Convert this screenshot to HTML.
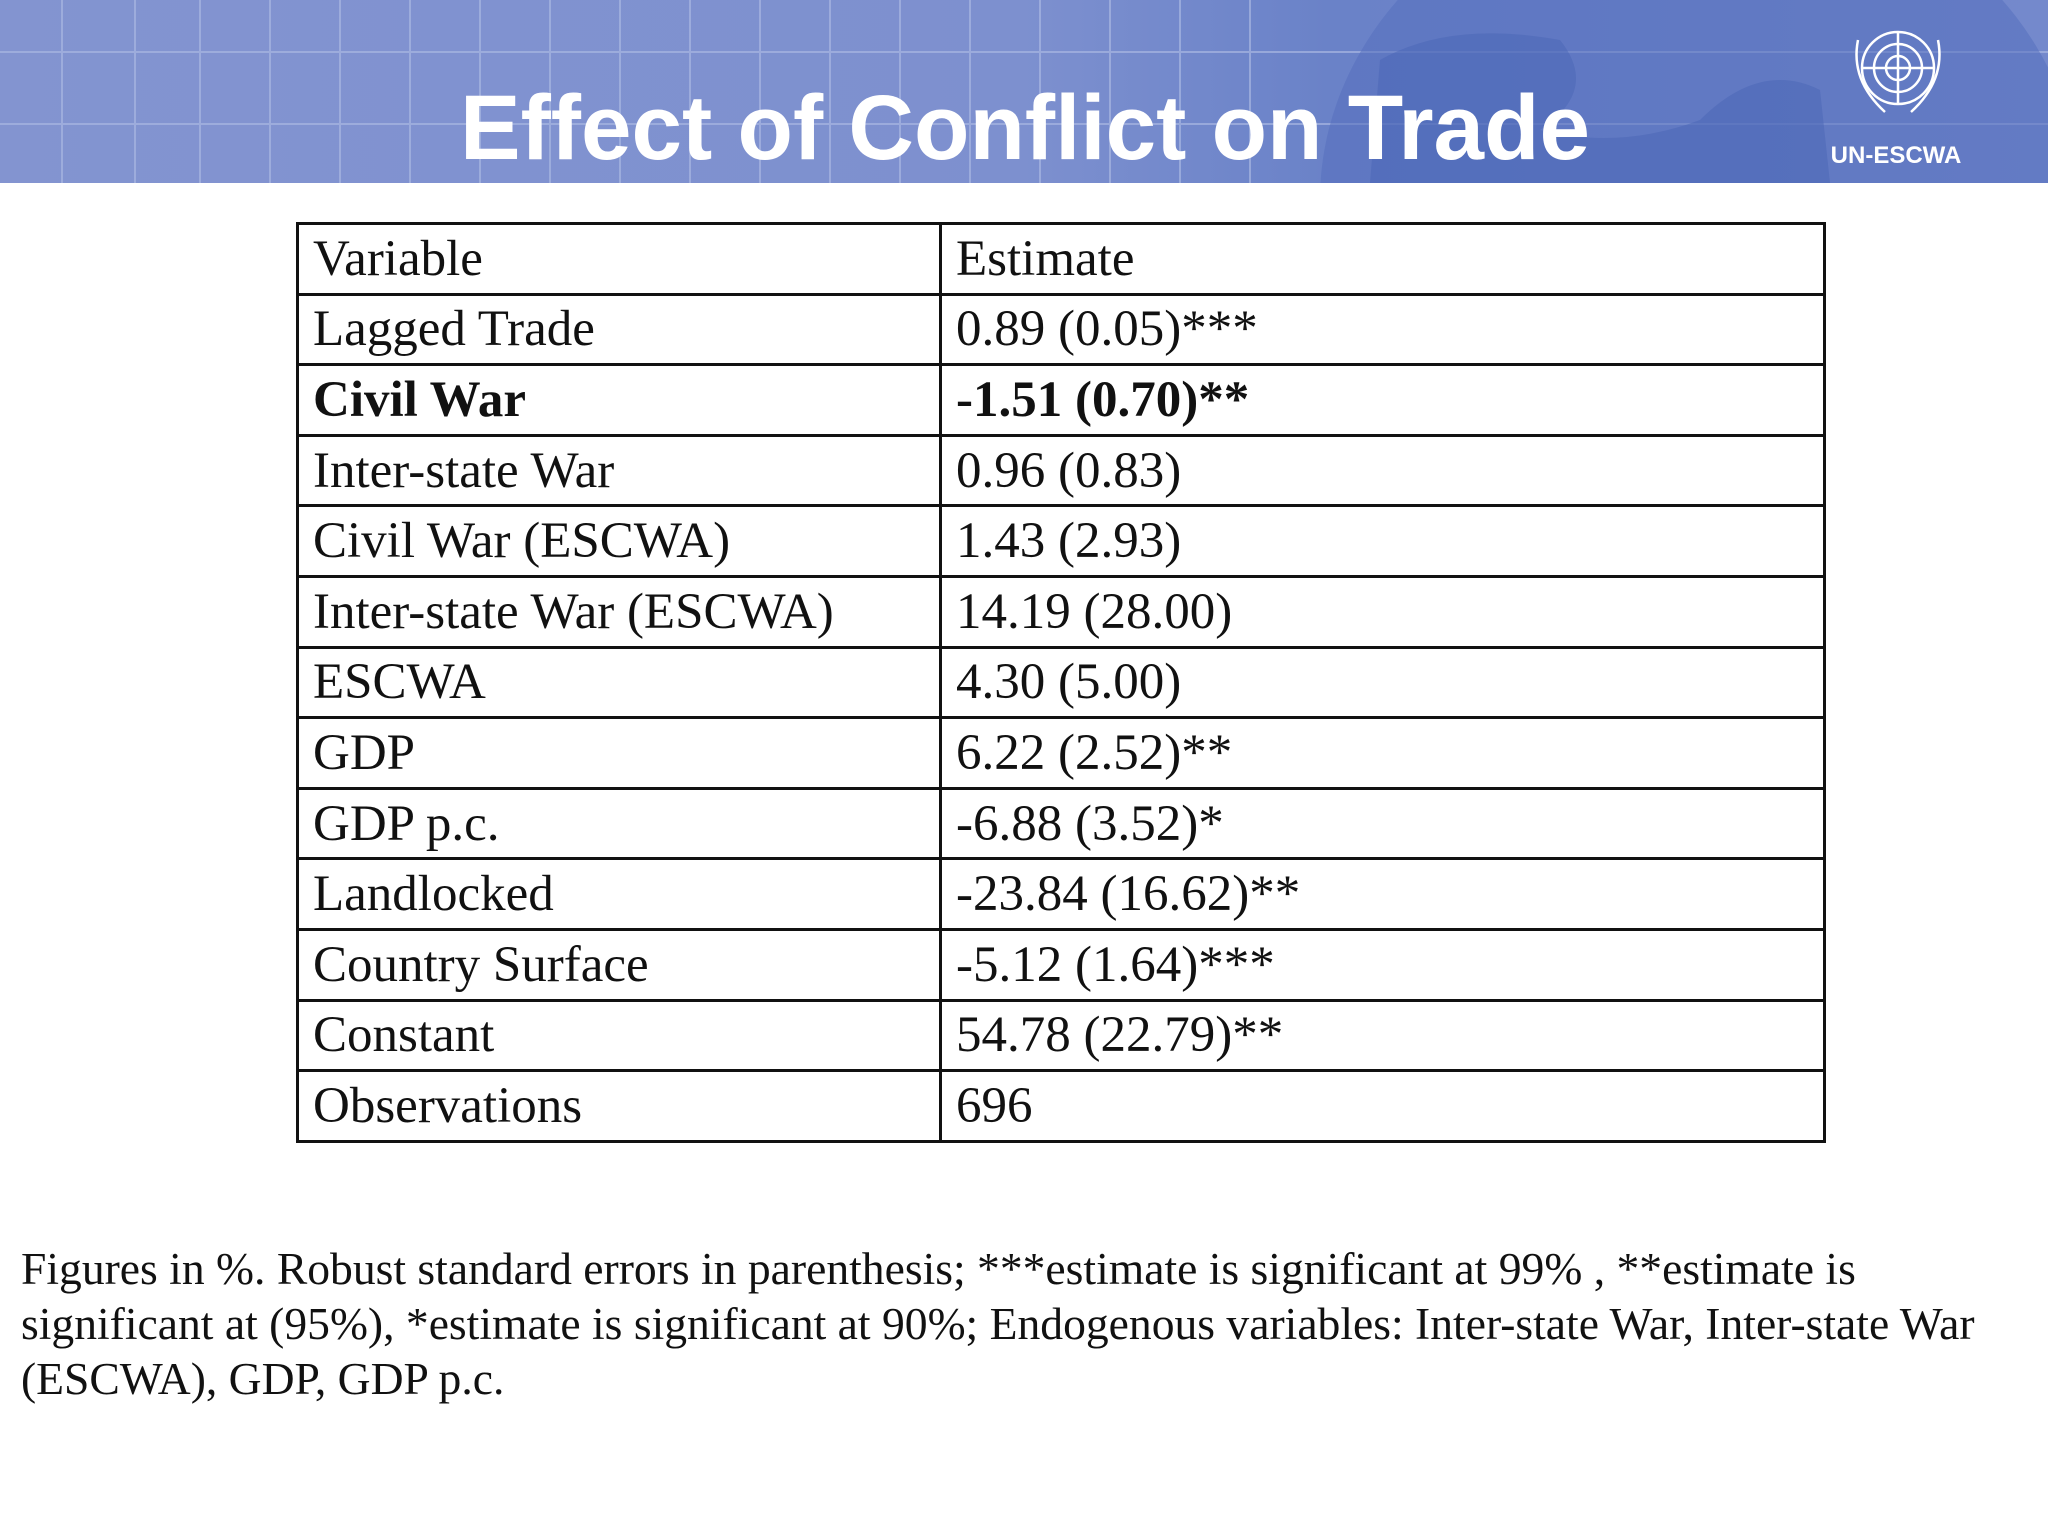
<!DOCTYPE html>
<html><head><meta charset="utf-8"><style>
html,body{margin:0;padding:0;background:#fff;}
body{width:2048px;height:1536px;position:relative;overflow:hidden;font-family:"Liberation Serif",serif;}
#header{position:absolute;left:0;top:0;width:2048px;height:183px;background:linear-gradient(90deg,#8394d0 0%,#7d90cf 50%,#6a82c8 65%,#7489cc 100%);overflow:hidden;}
table{position:absolute;left:296px;top:222px;width:1530px;border-collapse:collapse;}
td{border:3px solid #111;height:67.6px;padding:0 0 0 14px;font-size:51px;line-height:60px;color:#111;white-space:nowrap;vertical-align:middle;}
td.c1{width:626px;}
tr.b td{font-weight:bold;}
#note{position:absolute;left:21px;top:1241px;width:2000px;font-size:45.6px;line-height:55px;color:#111;}
</style></head><body>
<div id="header">
<svg width="2048" height="183" style="position:absolute;left:0;top:0">
<g stroke="#a9b7e2" stroke-width="2" opacity="0.7">
<line x1="0" y1="52" x2="2048" y2="52"/><line x1="0" y1="124" x2="2048" y2="124"/>
<line x1="62" y1="0" x2="62" y2="183"/><line x1="135" y1="0" x2="135" y2="183"/><line x1="200" y1="0" x2="200" y2="183"/><line x1="270" y1="0" x2="270" y2="183"/><line x1="340" y1="0" x2="340" y2="183"/><line x1="410" y1="0" x2="410" y2="183"/><line x1="480" y1="0" x2="480" y2="183"/><line x1="550" y1="0" x2="550" y2="183"/><line x1="620" y1="0" x2="620" y2="183"/><line x1="690" y1="0" x2="690" y2="183"/><line x1="760" y1="0" x2="760" y2="183"/><line x1="830" y1="0" x2="830" y2="183"/><line x1="900" y1="0" x2="900" y2="183"/><line x1="970" y1="0" x2="970" y2="183"/><line x1="1040" y1="0" x2="1040" y2="183"/><line x1="1110" y1="0" x2="1110" y2="183"/><line x1="1180" y1="0" x2="1180" y2="183"/><line x1="1250" y1="0" x2="1250" y2="183"/>
</g>
<ellipse cx="1700" cy="200" rx="380" ry="330" fill="#5670bd" opacity="0.55"/>
<path d="M1380 60 Q1450 20 1560 40 Q1600 90 1540 130 Q1620 150 1700 120 Q1760 60 1820 90 L1830 183 L1370 183 Z" fill="#4a66b6" opacity="0.5"/>
<text x="1025" y="159" text-anchor="middle" textLength="1130" lengthAdjust="spacingAndGlyphs" font-family="Liberation Sans, sans-serif" font-weight="bold" font-size="92" fill="#fff">Effect of Conflict on Trade</text>
<g stroke="#fff" fill="none" stroke-width="2.5">
<circle cx="1898" cy="68" r="36"/><circle cx="1898" cy="68" r="24"/><circle cx="1898" cy="68" r="12"/>
<line x1="1898" y1="32" x2="1898" y2="104"/><line x1="1862" y1="68" x2="1934" y2="68"/>
<path d="M1858 40 Q1850 80 1885 112"/><path d="M1938 40 Q1946 80 1911 112"/>
</g>
<text x="1896" y="163" text-anchor="middle" font-family="Liberation Sans, sans-serif" font-weight="bold" font-size="24" fill="#fff">UN-ESCWA</text>
</svg>
</div>
<table>
<tr><td class="c1">Variable</td><td>Estimate</td></tr>
<tr><td class="c1">Lagged Trade</td><td>0.89 (0.05)***</td></tr>
<tr class="b"><td class="c1">Civil War</td><td>-1.51 (0.70)**</td></tr>
<tr><td class="c1">Inter-state War</td><td>0.96 (0.83)</td></tr>
<tr><td class="c1">Civil War (ESCWA)</td><td>1.43 (2.93)</td></tr>
<tr><td class="c1">Inter-state War (ESCWA)</td><td>14.19 (28.00)</td></tr>
<tr><td class="c1">ESCWA</td><td>4.30 (5.00)</td></tr>
<tr><td class="c1">GDP</td><td>6.22 (2.52)**</td></tr>
<tr><td class="c1">GDP p.c.</td><td>-6.88 (3.52)*</td></tr>
<tr><td class="c1">Landlocked</td><td>-23.84 (16.62)**</td></tr>
<tr><td class="c1">Country Surface</td><td>-5.12 (1.64)***</td></tr>
<tr><td class="c1">Constant</td><td>54.78 (22.79)**</td></tr>
<tr><td class="c1">Observations</td><td>696</td></tr>
</table>
<div id="note">Figures in %. Robust standard errors in parenthesis; ***estimate is significant at 99% , **estimate is significant at (95%), *estimate is significant at 90%; Endogenous variables: Inter-state War, Inter-state War (ESCWA), GDP, GDP p.c.</div>
</body></html>
